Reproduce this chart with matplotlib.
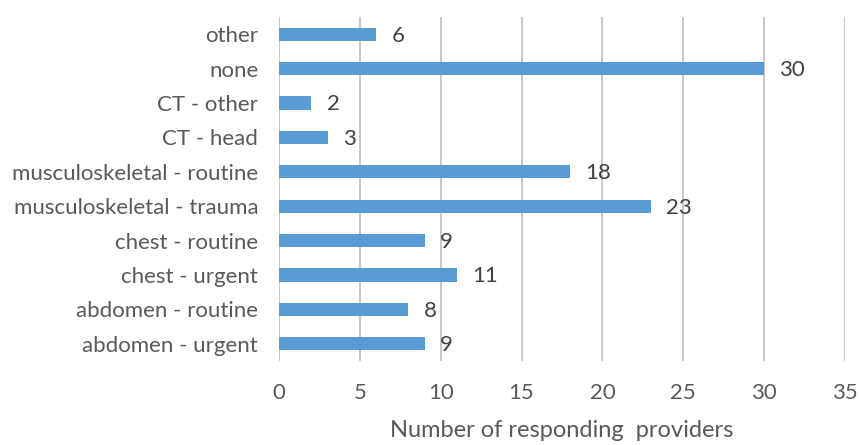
import matplotlib.pyplot as plt
import numpy as np

# categories from bottom to top, as drawn
categories = ['abdomen - urgent', 'abdomen - routine', 'chest - urgent', 'chest - routine',
              'musculoskeletal - trauma', 'musculoskeletal - routine', 'CT - head',
              'CT - other', 'none', 'other']
counts = [9, 8, 11, 9, 23, 18, 3, 2, 30, 6]
xticks = [0, 5, 10, 15, 20, 25, 30, 35]

text_color = '#595959'
plt.rcParams['font.family'] = ['Lato', 'DejaVu Sans']

fig = plt.figure(figsize=(8.59, 4.45), dpi=100)
ax = fig.add_axes([0.3248, 0.1888, 0.6589, 0.773])

y = np.arange(len(categories))
ax.barh(y, counts, height=0.38, color='#5B9BD5', zorder=3)

for yi, c in zip(y, counts):
    ax.annotate(str(c), (c, yi), xytext=(11, -1), textcoords='offset points',
                ha='left', va='center', fontsize=16, color='#404040')

ax.set_xlim(0, 35)
ax.set_ylim(-0.5, len(categories) - 0.5)
ax.set_xticks(xticks)
ax.set_yticks(y)
ax.set_yticklabels(categories)

# vertical gridlines only
ax.grid(axis='x', color='#C8C8C8', linewidth=1.4, zorder=0)
for s in ax.spines.values():
    s.set_visible(False)
ax.tick_params(length=0, labelsize=16, colors=text_color)
ax.tick_params(axis='x', pad=16)
ax.tick_params(axis='y', pad=15)

ax.set_xlabel('Number of responding  providers', fontsize=17, color=text_color, labelpad=12)

fig.savefig('out.png', dpi=100)
